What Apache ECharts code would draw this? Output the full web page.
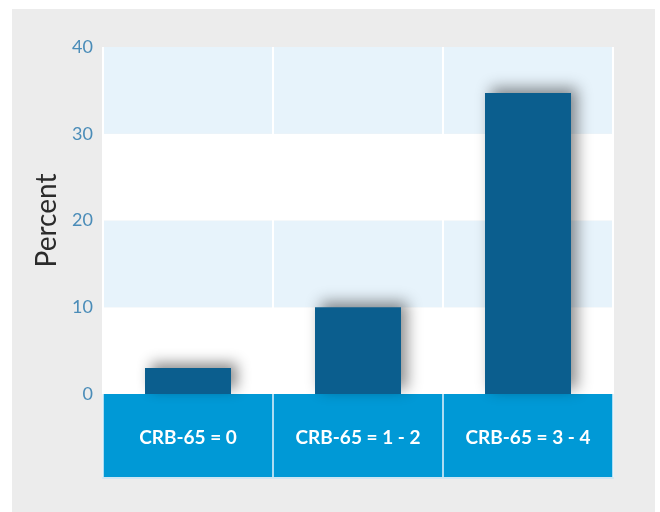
<!DOCTYPE html>
<html>
<head>
<meta charset="utf-8">
<script src="https://cdn.jsdelivr.net/npm/echarts@6/dist/echarts.min.js"></script>
<style>
html,body{margin:0;padding:0;background:#fff;}
#panel{position:absolute;left:12px;top:9px;width:643px;height:503px;background:#ececec;}
#chart{position:absolute;left:0;top:0;width:660px;height:512px;}
</style>
</head>
<body>
<div id="panel"></div>
<div id="chart"></div>
<script>
const categories = ['CRB-65 = 0', 'CRB-65 = 1 - 2', 'CRB-65 = 3 - 4'];
const percentValues = [3, 10, 34.7];
const yTicks = [0, 10, 20, 30, 40];

const chart = echarts.init(document.getElementById('chart'), null, {renderer: 'canvas'});
chart.setOption({
  backgroundColor: 'transparent',
  animation: false,
  grid: [
    {left: 103, right: 47, top: 47, bottom: 118},
    {left: 103, right: 47, top: 394, bottom: 34, show: true, backgroundColor: '#0099d6', borderWidth: 0}
  ],
  xAxis: [
    {
      type: 'category', gridIndex: 0, data: categories,
      axisLine: {show: false}, axisTick: {show: false}, axisLabel: {show: false},
      splitLine: {show: true, lineStyle: {color: '#ffffff', width: 2}}
    },
    {
      type: 'category', gridIndex: 1, data: categories,
      axisLine: {show: true, lineStyle: {color: '#cfe6f3', width: 2}},
      axisTick: {show: false},
      axisLabel: {show: true, margin: -50, color: '#ffffff', fontFamily: 'Lato', fontWeight: 'bold', fontSize: 19},
      splitLine: {show: true, lineStyle: {color: '#e6f3fb', width: 1.5}}
    }
  ],
  yAxis: [
    {
      type: 'value', gridIndex: 0, min: yTicks[0], max: yTicks[yTicks.length - 1], interval: 10,
      name: 'Percent', nameLocation: 'middle', nameGap: 35, nameRotate: 90,
      nameTextStyle: {color: '#2b2b2b', fontFamily: 'Lato', fontSize: 28},
      axisLine: {show: false}, axisTick: {show: false},
      axisLabel: {color: '#4a8cb8', fontFamily: 'Lato', fontWeight: 'normal', fontSize: 18, margin: 10},
      splitLine: {show: false},
      splitArea: {show: true, areaStyle: {color: ['#ffffff', '#e7f3fb']}}
    },
    {
      type: 'value', gridIndex: 1, min: 0, max: 1, show: false
    }
  ],
  series: [
    {
      type: 'bar', xAxisIndex: 0, yAxisIndex: 0, data: percentValues,
      barWidth: 86,
      itemStyle: {color: '#0b5e8e', shadowColor: 'rgba(0,0,0,0.45)', shadowBlur: 14, shadowOffsetX: 6, shadowOffsetY: -5}
    }
  ]
});
</script>
</body>
</html>
